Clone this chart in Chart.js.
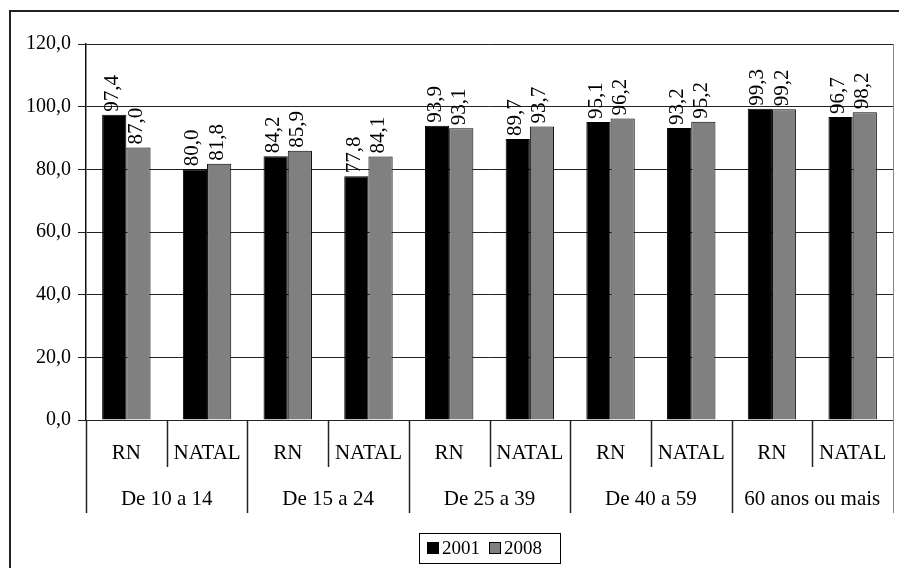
<!DOCTYPE html>
<html>
<head>
<meta charset="utf-8">
<script src="https://cdn.jsdelivr.net/npm/chart.js@4"></script>
<style>
  body { margin: 0; background: #fff; }
  #wrap { width: 899px; height: 568px; position: relative; }
</style>
</head>
<body>
<div id="wrap"><canvas id="chart"></canvas></div>
<script>
const places = ["RN", "NATAL", "RN", "NATAL", "RN", "NATAL", "RN", "NATAL", "RN", "NATAL"];
const ageGroups = ["De 10 a 14", "De 15 a 24", "De 25 a 39", "De 40 a 59", "60 anos ou mais"];
const values2001 = [97.4, 80.0, 84.2, 77.8, 93.9, 89.7, 95.1, 93.2, 99.3, 96.7];
const values2008 = [87.0, 81.8, 85.9, 84.1, 93.1, 93.7, 96.2, 95.2, 99.2, 98.2];
const yTicks = [0, 20, 40, 60, 80, 100, 120];

const FONT = "'Liberation Serif', 'Times New Roman', serif";
const fmt = v => v.toFixed(1).replace(".", ",");

// border, value labels, two-level category axis and boxed legend
const decorations = {
  id: "decorations",
  afterDatasetsDraw(chart) {
    const ctx = chart.ctx;
    ctx.save();
    ctx.fillStyle = "#000";
    ctx.font = "21px " + FONT;
    ctx.textAlign = "left";
    ctx.textBaseline = "middle";
    chart.data.datasets.forEach((ds, di) => {
      chart.getDatasetMeta(di).data.forEach((bar, i) => {
        ctx.save();
        ctx.translate(bar.x - 2, bar.y - 3);
        ctx.rotate(-Math.PI / 2);
        ctx.fillText(fmt(ds.data[i]), 0, 0);
        ctx.restore();
      });
    });
    ctx.restore();
  },
  afterDraw(chart) {
    const ctx = chart.ctx;
    const area = chart.chartArea;
    const x = chart.scales.x;
    const slot = (area.right - area.left) / places.length;
    ctx.save();

    // outer frame (cut off at right and bottom like the source)
    ctx.strokeStyle = "#222";
    ctx.lineWidth = 2;
    ctx.beginPath();
    ctx.moveTo(10, 568);
    ctx.lineTo(10, 11);
    ctx.lineTo(899, 11);
    ctx.stroke();

    // plot right edge
    ctx.lineWidth = 1;
    ctx.strokeStyle = "#888";
    ctx.beginPath();
    ctx.moveTo(area.right + 0.5, area.top);
    ctx.lineTo(area.right + 0.5, 513);
    ctx.stroke();

    // category separators
    ctx.strokeStyle = "#222";
    ctx.lineWidth = 1.5;
    for (let i = 0; i < places.length; i++) {
      const px = Math.round(area.left + i * slot) + 0.5;
      ctx.beginPath();
      ctx.moveTo(px, area.bottom);
      ctx.lineTo(px, i % 2 === 0 ? 513 : 467);
      ctx.stroke();
    }

    ctx.fillStyle = "#000";
    ctx.font = "21px " + FONT;
    ctx.textAlign = "center";
    ctx.textBaseline = "middle";
    places.forEach((p, i) => {
      ctx.fillText(p, x.getPixelForValue(i), 453);
    });
    ageGroups.forEach((g, i) => {
      const cx = (x.getPixelForValue(i * 2) + x.getPixelForValue(i * 2 + 1)) / 2;
      ctx.fillText(g, cx, 499);
    });

    // legend
    ctx.strokeStyle = "#000";
    ctx.lineWidth = 1;
    ctx.strokeRect(419.5, 533.5, 141, 30);
    ctx.font = "19px " + FONT;
    ctx.textAlign = "left";
    let lx = 427;
    chart.data.datasets.forEach(ds => {
      ctx.fillStyle = ds.backgroundColor;
      ctx.fillRect(lx, 542, 12, 12);
      ctx.strokeRect(lx + 0.5, 542.5, 11, 11);
      ctx.fillStyle = "#000";
      ctx.fillText(ds.label, lx + 15, 549);
      lx += ctx.measureText(ds.label).width + 24;
    });
    ctx.restore();
  }
};

new Chart(document.getElementById("chart"), {
  type: "bar",
  data: {
    labels: places,
    datasets: [
      { label: "2001", data: values2001, backgroundColor: "#000000", borderColor: "#000", borderWidth: 1 },
      { label: "2008", data: values2008, backgroundColor: "#808080", borderColor: "#000", borderWidth: 1 }
    ]
  },
  options: {
    responsive: true,
    maintainAspectRatio: false,
    animation: false,
    layout: { padding: { top: 44, right: 6, left: 0, bottom: 0 } },
    datasets: { bar: { categoryPercentage: 0.6, barPercentage: 1.0 } },
    plugins: {
      legend: { display: false },
      tooltip: { enabled: false }
    },
    scales: {
      x: {
        grid: { display: false },
        border: { display: true, color: "#222" },
        ticks: { display: false },
        afterFit: s => { s.height = 148; }
      },
      y: {
        min: yTicks[0],
        max: yTicks[yTicks.length - 1],
        afterBuildTicks: s => { s.ticks = yTicks.map(v => ({ value: v })); },
        grid: { color: "#222", lineWidth: 1, tickLength: 8 },
        border: { display: true, color: "#111", width: 1.5 },
        ticks: {
          color: "#000",
          padding: 7,
          font: { family: FONT, size: 20 },
          callback: v => fmt(v)
        },
        afterFit: s => { s.width = 86; }
      }
    }
  },
  plugins: [decorations]
});
</script>
</body>
</html>
